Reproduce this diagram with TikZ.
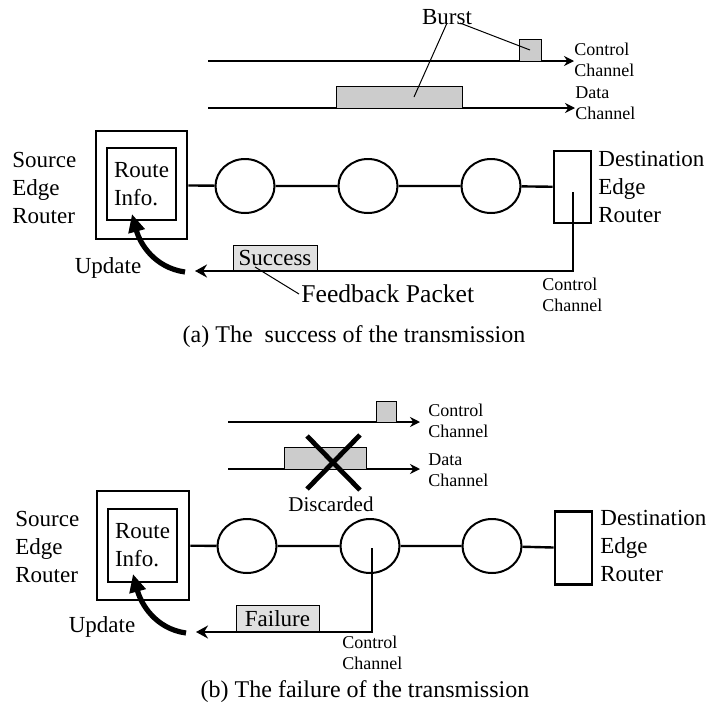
\documentclass[tikz,border=0pt]{standalone}
\usepackage{fontspec}
\setmainfont{Liberation Serif}
\usepackage{tikz}
\usetikzlibrary{positioning, arrows.meta, shapes.geometric, calc}

\begin{document}
\begin{tikzpicture}[x=0.5pt, y=-0.5pt,
    bigtxt/.style={font=\fontsize{11.5}{14}\selectfont, align=left, inner sep=0pt},
    smalltxt/.style={font=\fontsize{9}{10.5}\selectfont, align=left, inner sep=0pt},
    edgebox/.style={draw, line width=1.3pt, inner sep=0pt},
    relay/.style={draw, ellipse, line width=1pt, minimum width=29.5pt, minimum height=27pt, inner sep=0pt},
    burstbox/.style={draw, line width=0.5pt, fill=black!20, inner sep=0pt},
    pktbox/.style={draw, line width=0.5pt, fill=black!12, inner sep=0.6pt, font=\fontsize{11.5}{14}\selectfont},
    chan/.style={line width=0.6pt, -{Stealth[length=5pt, width=5pt]}},
    link/.style={line width=1.2pt},
    fback/.style={line width=1pt, -{Stealth[length=6pt, width=6.5pt]}},
    upd/.style={line width=2.6pt, -{Triangle[length=9pt, width=8pt]}},
    leader/.style={line width=0.5pt},
    xmark/.style={line width=2.4pt},
]
    \useasboundingbox (0,0) rectangle (708,707);

    % ---------- (a) success ----------
    % Channels with bursts
    \node[bigtxt] (burstA) at (447,17) {Burst};
    \node[smalltxt, anchor=west] (ctllblA) at (574,60) {Control\\Channel};
    \node[smalltxt, anchor=west] (datlblA) at (575,103) {Data\\Channel};
    \coordinate (ctlsA) at (208,61);
    \coordinate (datsA) at (208,108);
    \draw[chan] (ctlsA) -- (ctllblA.west |- ctlsA);
    \draw[chan] (datsA) -- (datlblA.west |- datsA);
    \node[burstbox, minimum width=11pt, minimum height=11pt] (ctlA) at (530,50) {};
    \node[burstbox, minimum width=63pt, minimum height=11pt] (datA) at (399,97) {};
    \draw[leader] ([xshift=6.5pt, yshift=1pt]burstA.south) -- (ctlA.center);
    \draw[leader] ([yshift=1pt]burstA.south) -- ([xshift=7.5pt]datA.center);

    % Routers and core nodes
    \node[edgebox, minimum width=45.5pt, minimum height=54pt] (srcA) at (141.5,185) {};
    \node[edgebox, minimum width=34.5pt, minimum height=36pt, bigtxt] (infoA) at (141.5,184) {Route\\Info.};
    \node[bigtxt, anchor=west] (srctxtA) at (12,188) {Source\\Edge\\Router};
    \node[relay] (c1A) at (245,186) {};
    \node[relay] (c2A) at (368,186) {};
    \node[relay] (c3A) at (491,186) {};
    \node[edgebox, minimum width=18.5pt, minimum height=36pt] (dstA) at (572.5,187) {};
    \node[bigtxt, anchor=west] (dsttxtA) at (598,187) {Destination\\Edge\\Router};
    \draw[link] (srcA) -- (c1A) -- (c2A) -- (c3A) -- (dstA);

    % Feedback packet back to the source
    \coordinate (fbeA) at (195,271);
    \draw[fback] ([yshift=-2.5pt]dstA.center) |- (fbeA);
    \node[pktbox, anchor=south, minimum width=42pt, minimum height=12.5pt] (succA) at (275,271) {Success};
    \node[smalltxt, anchor=west] (fblblA) at (542,295) {Control\\Channel};
    \node[bigtxt, font=\fontsize{12.8}{14}\selectfont, anchor=west] (fbtxtA) at (301,294) {Feedback Packet};
    \draw[leader] ([xshift=-1pt]fbtxtA.west) -- ($(succA.south)+(-20,-4)$);
    \coordinate (updsA) at (185,272);
    \coordinate (updeA) at (132,214);
    \draw[upd] (updsA) to[out=172, in=-75] (updeA);
    \node[bigtxt] (updtxtA) at (108,268) {Update};

    \node[bigtxt, font=\fontsize{12}{14}\selectfont] (capA) at (354,337) {(a) The~ success of the transmission};

    % ---------- (b) failure ----------
    \node[smalltxt, anchor=west] (ctllblB) at (428,421) {Control\\Channel};
    \node[smalltxt, anchor=west] (datlblB) at (428,470) {Data\\Channel};
    \coordinate (ctlsB) at (228,422);
    \coordinate (datsB) at (228,469);
    \draw[chan] (ctlsB) -- ([xshift=-4pt]ctllblB.west |- ctlsB);
    \draw[chan] (datsB) -- ([xshift=-4pt]datlblB.west |- datsB);
    \node[burstbox, minimum width=10pt, minimum height=10.5pt] (ctlB) at (386,411.5) {};
    \node[burstbox, minimum width=41pt, minimum height=11pt] (datB) at (325,458) {};
    % dropped burst
    \draw[xmark] (307,436) -- (360,490);
    \draw[xmark] (360,435) -- (307,489);
    \node[bigtxt, font=\fontsize{10.5}{14}\selectfont] (dropB) at (331,504) {Discarded};

    \node[edgebox, minimum width=46pt, minimum height=54.5pt] (srcB) at (143,545.5) {};
    \node[edgebox, minimum width=34.5pt, minimum height=36.5pt, bigtxt] (infoB) at (142.5,545.5) {Route\\Info.};
    \node[bigtxt, anchor=west] (srctxtB) at (15,547) {Source\\Edge\\Router};
    \node[relay] (c1B) at (247,546) {};
    \node[relay] (c2B) at (370,546) {};
    \node[relay] (c3B) at (492,546) {};
    \node[edgebox, minimum width=18.5pt, minimum height=36.5pt] (dstB) at (573.5,548) {};
    \node[bigtxt, anchor=west] (dsttxtB) at (600,546) {Destination\\Edge\\Router};
    \draw[link] (srcB) -- (c1B) -- (c2B) -- (c3B) -- (dstB);

    % Failure notice from the core node
    \coordinate (fbeB) at (196,632);
    \draw[fback] ([xshift=1pt, yshift=-1pt]c2B.center) |- (fbeB);
    \node[pktbox, anchor=south, minimum width=41.5pt, minimum height=13pt] (failB) at (277.5,632) {Failure};
    \node[smalltxt, anchor=west] (fblblB) at (342,653) {Control\\Channel};
    \coordinate (updsB) at (186,633);
    \coordinate (updeB) at (133,574);
    \draw[upd] (updsB) to[out=172, in=-75] (updeB);
    \node[bigtxt] (updtxtB) at (102,627) {Update};

    \node[bigtxt, font=\fontsize{12}{14}\selectfont] (capB) at (365,692) {(b) The failure of the transmission};

\end{tikzpicture}
\end{document}
